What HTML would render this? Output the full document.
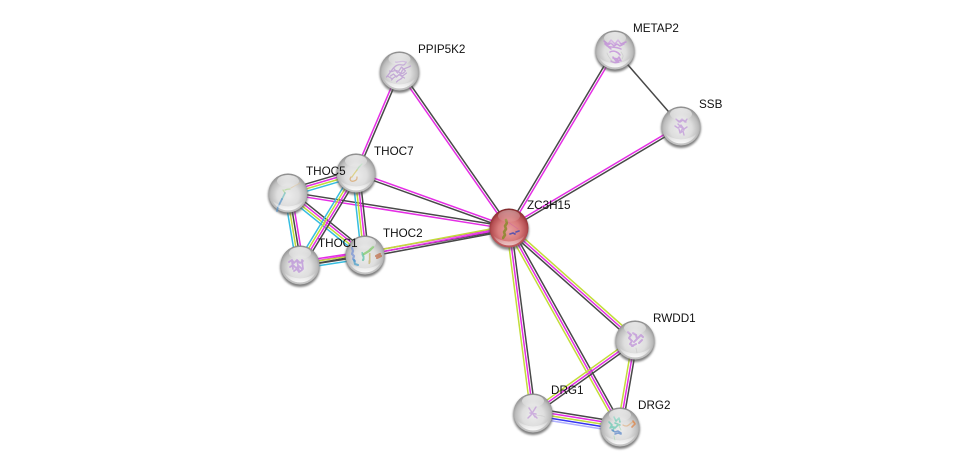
<!DOCTYPE html>
<html><head><meta charset="utf-8"><style>
html,body{margin:0;padding:0;background:#fff;width:976px;height:472px;overflow:hidden}
svg{display:block}
text{font-family:"Liberation Sans",sans-serif;font-size:11.7px;fill:#111}
.s{fill:none;stroke-width:.9;stroke-linecap:round;stroke-linejoin:round;filter:url(#bl);opacity:.68}
</style></head><body>
<svg width="976" height="472" viewBox="0 0 976 472" xmlns="http://www.w3.org/2000/svg">
<defs>
<filter id="bl" x="-20%" y="-20%" width="140%" height="140%"><feGaussianBlur stdDeviation=".35"/></filter>
<filter id="bs" x="-20%" y="-20%" width="140%" height="140%"><feGaussianBlur stdDeviation="1"/></filter>
<radialGradient id="g" cx="50%" cy="56%" r="56%">
<stop offset="0" stop-color="#ececec"/><stop offset=".5" stop-color="#dedede"/><stop offset=".8" stop-color="#bcbcbc"/><stop offset=".95" stop-color="#969696"/><stop offset="1" stop-color="#7e7e7e"/>
</radialGradient>
<radialGradient id="r" cx="50%" cy="56%" r="56%">
<stop offset="0" stop-color="#e8a0a0"/><stop offset=".5" stop-color="#d97c7c"/><stop offset=".8" stop-color="#b65054"/><stop offset=".95" stop-color="#8e2e30"/><stop offset="1" stop-color="#702024"/>
</radialGradient>
<linearGradient id="h" x1="0" y1="0" x2="0" y2="1">
<stop offset="0" stop-color="#fff" stop-opacity=".75"/><stop offset="1" stop-color="#fff" stop-opacity=".1"/>
</linearGradient>
<linearGradient id="b" x1="0" y1="0" x2="0" y2="1">
<stop offset="0" stop-color="#fff" stop-opacity="0"/><stop offset="1" stop-color="#fff" stop-opacity="1"/>
</linearGradient>
<g id="grey">
<circle cx="0" cy="2" r="20" fill="#555" opacity=".75" filter="url(#bs)"/>
<circle r="19.5" fill="url(#g)"/>
</g>
<g id="gloss">
<ellipse cx="0" cy="-12" rx="11" ry="6" fill="url(#h)"/>
<path d="M-16 7A17.5 17.5 0 0 0 16 7A23 23 0 0 1 -16 7Z" fill="url(#b)" opacity=".9"/>
</g>
<line id="e1" x1="399.5" y1="71" x2="509" y2="228"/>
<line id="e2" x1="399.5" y1="71" x2="356" y2="173"/>
<line id="e3" x1="615" y1="50" x2="509" y2="228"/>
<line id="e5" x1="681" y1="126" x2="509" y2="228"/>
<line id="e6" x1="356" y1="173" x2="509" y2="228"/>
<line id="e7" x1="288" y1="193" x2="509" y2="228"/>
<line id="e8" x1="365" y1="255" x2="509" y2="228"/>
<line id="e8b" x1="300" y1="265" x2="509" y2="228"/>
<line id="e9" x1="288" y1="193" x2="356" y2="173"/>
<line id="e10" x1="288" y1="193" x2="300" y2="265"/>
<line id="e11" x1="288" y1="193" x2="365" y2="255"/>
<line id="e12" x1="356" y1="173" x2="300" y2="265"/>
<line id="e13" x1="356" y1="173" x2="365" y2="255"/>
<line id="e14" x1="300" y1="265" x2="365" y2="255"/>
<line id="e15" x1="509" y1="228" x2="635" y2="340"/>
<line id="e16" x1="509" y1="228" x2="533" y2="413"/>
<line id="e17" x1="509" y1="228" x2="620" y2="427"/>
<line id="e18" x1="635" y1="340" x2="533" y2="413"/>
<line id="e19" x1="635" y1="340" x2="620" y2="427"/>
<line id="e20" x1="533" y1="413" x2="620" y2="427"/>
</defs>

<g stroke-width="1.5" fill="none">
<use href="#e1" x="-.98" y=".69" stroke="#e52ee5"/><use href="#e1" x=".98" y="-.69" stroke="#484848"/>
<use href="#e2" x="-1.1" y="-.48" stroke="#e52ee5"/><use href="#e2" x="1.1" y=".48" stroke="#484848"/>
<use href="#e3" x="-1.03" y="-.6" stroke="#484848"/><use href="#e3" x="1.03" y=".6" stroke="#e52ee5"/>
<line x1="615" y1="50" x2="681" y2="126" stroke="#484848"/>
<use href="#e5" x="-.6" y="-1.03" stroke="#e52ee5"/><use href="#e5" x=".6" y="1.03" stroke="#484848"/>
<use href="#e6" x=".4" y="-1.13" stroke="#e52ee5"/><use href="#e6" x="-.4" y="1.13" stroke="#484848"/>
<use href="#e7" x=".19" y="-1.18" stroke="#484848"/><use href="#e7" x="-.19" y="1.18" stroke="#e52ee5"/>
<use href="#e8b" x="-.21" y="-1.18" stroke="#e52ee5"/><use href="#e8b" x=".21" y="1.18" stroke="#484848"/>
<use href="#e8" x="-.44" y="-2.36" stroke="#c2dc3a"/><use href="#e8" stroke="#e52ee5"/><use href="#e8" x=".44" y="2.36" stroke="#484848"/>

<use href="#e9" x="-1.02" y="-3.44" stroke="#484848"/><use href="#e9" x="-.34" y="-1.15" stroke="#e52ee5"/><use href="#e9" x=".34" y="1.15" stroke="#c2dc3a"/><use href="#e9" x="1.02" y="3.44" stroke="#35bde0"/>
<use href="#e10" x="-3.53" y=".58" stroke="#35bde0"/><use href="#e10" x="-1.17" y=".2" stroke="#c2dc3a"/><use href="#e10" x="1.17" y="-.2" stroke="#484848"/><use href="#e10" x="3.53" y="-.58" stroke="#e52ee5"/>
<use href="#e11" x="2.24" y="-2.8" stroke="#484848"/><use href="#e11" x=".76" y="-.93" stroke="#e52ee5"/><use href="#e11" x="-.76" y=".93" stroke="#c2dc3a"/><use href="#e11" x="-2.24" y="2.8" stroke="#35bde0"/>
<use href="#e12" x="-3.06" y="-1.86" stroke="#35bde0"/><use href="#e12" x="-1.02" y="-.63" stroke="#c2dc3a"/><use href="#e12" x="1.02" y=".63" stroke="#e52ee5"/><use href="#e12" x="3.06" y="1.86" stroke="#484848"/>
<use href="#e13" x="-3.57" y=".39" stroke="#35bde0"/><use href="#e13" x="-1.18" y=".13" stroke="#c2dc3a"/><use href="#e13" x="1.18" y="-.13" stroke="#e52ee5"/><use href="#e13" x="3.57" y="-.39" stroke="#484848"/>
<use href="#e14" x="-.55" y="-3.55" stroke="#e52ee5"/><use href="#e14" x="-.19" y="-1.18" stroke="#c2dc3a"/><use href="#e14" x=".19" y="1.18" stroke="#484848"/><use href="#e14" x=".55" y="3.55" stroke="#35bde0"/>

<use href="#e15" x="1.59" y="-1.79" stroke="#c2dc3a"/><use href="#e15" stroke="#e52ee5"/><use href="#e15" x="-1.59" y="1.79" stroke="#484848"/>
<use href="#e16" x="-2.37" y=".3" stroke="#c2dc3a"/><use href="#e16" stroke="#e52ee5"/><use href="#e16" x="2.37" y="-.3" stroke="#484848"/>
<use href="#e17" x="-2.09" y="1.17" stroke="#c2dc3a"/><use href="#e17" stroke="#e52ee5"/><use href="#e17" x="2.09" y="-1.17" stroke="#484848"/>
<use href="#e18" x="-1.4" y="-1.95" stroke="#c2dc3a"/><use href="#e18" stroke="#e52ee5"/><use href="#e18" x="1.4" y="1.95" stroke="#484848"/>
<use href="#e19" x="-2.36" y="-.4" stroke="#c2dc3a"/><use href="#e19" stroke="#e52ee5"/><use href="#e19" x="2.36" y=".4" stroke="#484848"/>
<use href="#e20" x=".76" y="-4.74" stroke="#484848"/><use href="#e20" x=".38" y="-2.37" stroke="#e52ee5"/><use href="#e20" stroke="#c2dc3a"/><use href="#e20" x="-.38" y="2.37" stroke="#3434f0"/><use href="#e20" x="-.76" y="4.74" stroke="#b0b0ff"/>
</g>

<!-- PPIP5K2 -->
<g transform="translate(399.5 71)"><use href="#grey"/>
<path class="s" stroke="#b58fd0" d="M-13 6c4-4 6-10 11-12s5 3 9-3M-8 9c3-5 8-3 10-8s5-3 9-6M-10 0c3 2 5-2 8 0s4 4 7 1M-3 11c2-3 5-2 6-5M-4-9c3 1 6-2 10 0M-12 5l5 3M0 4l5 3M-6-3l4 5l4-6l4 4M-9 5l3-2l3 3l3-3l3 2l4-3" style="stroke-width:1.3"/>
<use href="#gloss"/></g>
<!-- METAP2 -->
<g transform="translate(615 50)"><use href="#grey"/>
<path class="s" stroke="#bd80d8" d="M-11-9l4 3l3-4l4 4l3-4l3 4l5-2M-10-7l3 2l3-2l3 3l3-2l3 2l4-2M-8-4c4 2 8 0 14 3M-5 2c4-2 8 0 10 3M-2 7l3 4l3-4l2 4M-4 11c3 2 6 2 8 1M-10-6l6 5M-2 8l5 1l-2 3l4-2" style="stroke-width:1.5"/>
<path class="s" stroke="#c8c8c8" d="M-8 3c2 6 6 8 6 9M6 2c2 3 3 4 1 7"/>
<use href="#gloss"/></g>
<!-- SSB -->
<g transform="translate(681 126)"><use href="#grey"/>
<path class="s" stroke="#bd90d8" d="M-5-7l3 3l3-3l3 3l2-3M-4-6l3 2l3-2l3 2M-6 0l3 2l3-3l3 4l3-2M-2 3l1 4l3-2l1 4M-3-2l6 6M-1 1l3 1l-2 3" style="stroke-width:1.4"/>
<use href="#gloss"/></g>
<!-- THOC7 -->
<g transform="translate(356 173)"><use href="#grey"/>
<path class="s" stroke="#a8d8b0" d="M6-9l-3 3l-2 3" style="stroke-width:1.3"/><path class="s" stroke="#d8c860" d="M1-3l-3 4l-2 3" style="stroke-width:1.3"/><path class="s" stroke="#d8a060" d="M-5 4c-2 3 0 5 3 4s3-2 3-4" style="stroke-width:1.3"/>
<use href="#gloss"/></g>
<!-- THOC5 -->
<g transform="translate(288 193)"><use href="#grey"/>
<path class="s" stroke="#b0d890" d="M-3-3c2-1 3-1 5-1M-5-3l2 3" style="stroke-width:1.3"/><path class="s" stroke="#70c0c0" d="M-3 0l-3 6" style="stroke-width:1.6"/><path class="s" stroke="#5090c8" d="M-6 6l-4 8l-1 4" style="stroke-width:1.8"/><path class="s" stroke="#e0c8a0" d="M3-5l5-3l4-2"/>
<use href="#gloss"/></g>
<!-- THOC1 -->
<g transform="translate(300 265)"><use href="#grey"/>
<path class="s" stroke="#b88ad8" style="stroke-width:1.8" d="M-11-3l3-2l2 3l3-3l3 3l3-2M-10 2l3-2l3 3l3-2l3 3M-6 6l3-2l2 3l3-2M-3-5l2 11M2-5l1 9M-8-4l1 8"/>
<use href="#gloss"/></g>
<!-- THOC2 -->
<g transform="translate(365 255)"><use href="#grey"/>
<path class="s" stroke="#6f8fd8" style="stroke-width:2.2" d="M-13-7l1 3l-1 3l2 2l-1 3l2 2"/>
<path class="s" stroke="#3d9ac8" style="stroke-width:2" d="M-11 5l1 4l3 1"/>
<path class="s" stroke="#50c0a0" style="stroke-width:2.2" d="M-3-2l2 5l-1 2"/>
<path class="s" stroke="#78c860" style="stroke-width:2.4" d="M-1-1l5-3l4-4"/>
<path class="s" stroke="#c0b060" style="stroke-width:2.2" d="M5-1l0 6l-1 3"/>
<path class="s" stroke="#c06840" style="stroke-width:2.2" d="M11 1l4-2M12 3l4-2"/>
<use href="#gloss"/></g>
<!-- ZC3H15 -->
<g transform="translate(509 228)">
<circle cy="2" r="20" fill="#555" opacity=".7" filter="url(#bs)"/><circle r="19.5" fill="url(#r)"/>
<path class="s" stroke="#8f8a30" style="stroke-width:2.6;opacity:.9" d="M-3-8l1 3l-2 3l1 3l-2 3l1 3l-2 3"/>
<path class="s" stroke="#5050b0" style="stroke-width:1.7;opacity:.9" d="M1 6l3-1l2 1M7 4l3-1"/>
<path class="s" stroke="#d060a0" style="stroke-width:.7" d="M-1-6l10 7"/>
<ellipse cx="0" cy="-12" rx="11" ry="6" fill="url(#h)" opacity=".55"/>
<path d="M-16 7A17.5 17.5 0 0 0 16 7A23 23 0 0 1 -16 7Z" fill="url(#b)" opacity=".65"/>
</g>
<!-- RWDD1 -->
<g transform="translate(635 340)"><use href="#grey"/>
<path class="s" stroke="#bc8ad8" style="stroke-width:2" d="M-7-8l3 3l-2 3l3 3l-2 3l3 2M-2-7l3 2l1 4l-3 3M3-2l3-3l2 2M4 3l3-3M-3 6l4-2"/><path class="s" stroke="#c8c8c8" d="M1 8l1 5"/>
<use href="#gloss"/></g>
<!-- DRG1 -->
<g transform="translate(533 413)"><use href="#grey"/>
<path class="s" stroke="#c094d8" style="stroke-width:1.5" d="M-4-5l6 9M3-6l-5 8l-3 3M-3 0l6 1M2 3l2 2"/><path class="s" stroke="#ccc" d="M3 2c4 1 6 0 9 2"/>
<use href="#gloss"/></g>
<!-- DRG2 -->
<g transform="translate(620 427)"><use href="#grey"/>
<path class="s" stroke="#60c8b0" style="stroke-width:1.6" d="M-11-5l3 3l-2 3l4-1l-1 4M-6-10l2 4l3-3l1 4M-5-4l5 2M-9-1l4 2l3-3"/>
<path class="s" stroke="#5080c8" style="stroke-width:1.6" d="M-8 3l3 2l3-1l3 2M-5 7l3-1l3 1"/>
<path class="s" stroke="#a8d8b0" d="M-6 9l1 5M-2-3l3 6"/>
<path class="s" stroke="#e0b080" style="stroke-width:1.3" d="M3-2c3 2 5 1 7-1s4-3 5-1"/>
<path class="s" stroke="#e08040" style="stroke-width:1.6" d="M13-6l2 3l-3 3"/>
<use href="#gloss"/></g>

<g>
<text x="418" y="53">PPIP5K2</text>
<text x="633" y="32">METAP2</text>
<text x="699" y="108">SSB</text>
<text x="374" y="155">THOC7</text>
<text x="306" y="175">THOC5</text>
<text x="527" y="209">ZC3H15</text>
<text x="383" y="237">THOC2</text>
<text x="318" y="247">THOC1</text>
<text x="653" y="322">RWDD1</text>
<text x="551" y="394">DRG1</text>
<text x="638" y="409">DRG2</text>
</g>
</svg>
</body></html>
